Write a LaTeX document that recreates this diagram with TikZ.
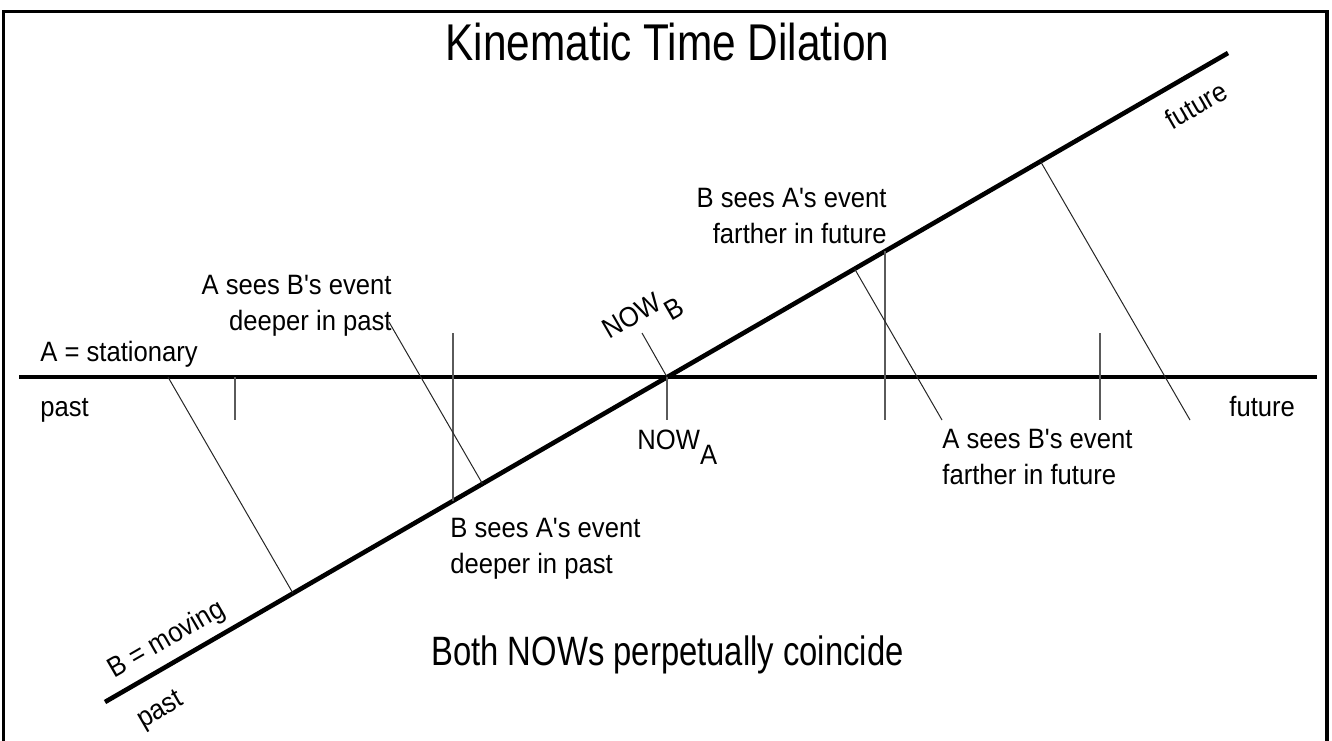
\documentclass[tikz,border=0pt]{standalone}
\usepackage{fontspec}
\setmainfont{Liberation Sans}
\newfontfamily\titlefont[FakeStretch=0.82]{Liberation Sans}
\newfontfamily\notefont[FakeStretch=0.8]{Liberation Sans}
\newfontfamily\bodyfont[FakeStretch=0.915]{Liberation Sans}
\newcommand{\straightq}{\char"0027\relax}
\usetikzlibrary{calc}
\definecolor{tickgray}{RGB}{90,90,90}

\begin{document}
\begin{tikzpicture}[x=0.5pt,y=-0.5pt,
  axis/.style={line width=2.3pt},
  tick/.style={line width=0.6pt,color=tickgray},
  sight/.style={line width=0.5pt,color=black!85},
  lbl/.style={font=\bodyfont\fontsize{14}{18}\selectfont,inner sep=0pt},
  titletext/.style={font=\titlefont\fontsize{25.85}{30}\selectfont,inner sep=0pt},
  bottomtext/.style={font=\notefont\fontsize{20.5}{24}\selectfont,inner sep=0pt}]
  \useasboundingbox (0,0) rectangle (1332,740);
  % frame
  \draw[line width=1.6pt] (3.5,745) -- (3.5,11.5) -- (1327,11.5) -- (1327,745);

  % the two world lines
  \coordinate (now)   at (667,377);
  \coordinate (apast) at (19,377);
  \coordinate (afut)  at (1317,377);
  \coordinate (bpast) at (105,702);
  \coordinate (bfut)  at (1228,53);
  \draw[axis] (apast) -- (afut);
  \draw[axis] (bpast) -- (bfut);

  % A's vertical lines of sight
  \coordinate (t1a) at (235,377);   \coordinate (t1b) at (235,420);
  \coordinate (t2a) at (453,333);   \coordinate (t2b) at (453,500.6);
  \coordinate (t3b) at (667,420);
  \coordinate (t4a) at (885,251.1); \coordinate (t4b) at (885,420);
  \coordinate (t5a) at (1100,333);  \coordinate (t5b) at (1100,420);
  \draw[tick] (t1a) -- (t1b);
  \draw[tick] (t2a) -- (t2b);
  \draw[tick] (now) -- (t3b);
  \draw[tick] (t4a) -- (t4b);
  \draw[tick] (t5a) -- (t5b);

  % B's slanted lines of sight (square to B's line)
  \coordinate (s1a) at (168,377);
  \coordinate (s2a) at (389,322);
  \coordinate (s3a) at (642,333);
  \coordinate (s4b) at (942,420);
  \coordinate (s5b) at (1190,420);
  \draw[sight] (s1a) -- ($(bpast)!(s1a)!(bfut)$);
  \draw[sight] (s2a) -- ($(bpast)!(s2a)!(bfut)$);
  \draw[sight] (s3a) -- (now);
  \draw[sight] ($(bpast)!(s4b)!(bfut)$) -- (s4b);
  \draw[sight] ($(bpast)!(s5b)!(bfut)$) -- (s5b);

  % labels (base = last line)
  \node[titletext,anchor=base] (title) at (667.5,60) {Kinematic Time Dilation};
  \node[lbl,anchor=base west] (astat) at (40,361) {A = stationary};
  \node[lbl,anchor=base west] (apastlbl) at (40,416) {past};
  \node[lbl,anchor=base west] (afutlbl) at (1229,416) {future};
  \node[lbl,anchor=base west] (nowa) at (637,449) {NOW\raisebox{-7.5pt}{A}};
  \node[lbl,align=right,anchor=base east] (aseesb1) at (392,330) {A sees B\straightq s event\\deeper in past};
  \node[lbl,align=right,anchor=base east] (bseesa2) at (887,243) {B sees A\straightq s event\\farther in future};
  \node[lbl,align=left,anchor=base west] (bseesa1) at (450,573) {B sees A\straightq s event\\deeper in past};
  \node[lbl,align=left,anchor=base west] (aseesb2) at (942,484) {A sees B\straightq s event\\farther in future};
  \node[bottomtext,anchor=base] (coincide) at (667.5,665) {Both NOWs perpetually coincide};
  \node[lbl,rotate=30] (bmov) at (167,640) {B = moving};
  \node[lbl,rotate=30] (bpastlbl) at (161,711) {past};
  \node[lbl,rotate=30] (bfutlbl) at (1196,105) {future};
  \node[lbl,rotate=30] (nowb) at (643,318) {NOW\raisebox{-7.5pt}{B}};
\end{tikzpicture}
\end{document}
